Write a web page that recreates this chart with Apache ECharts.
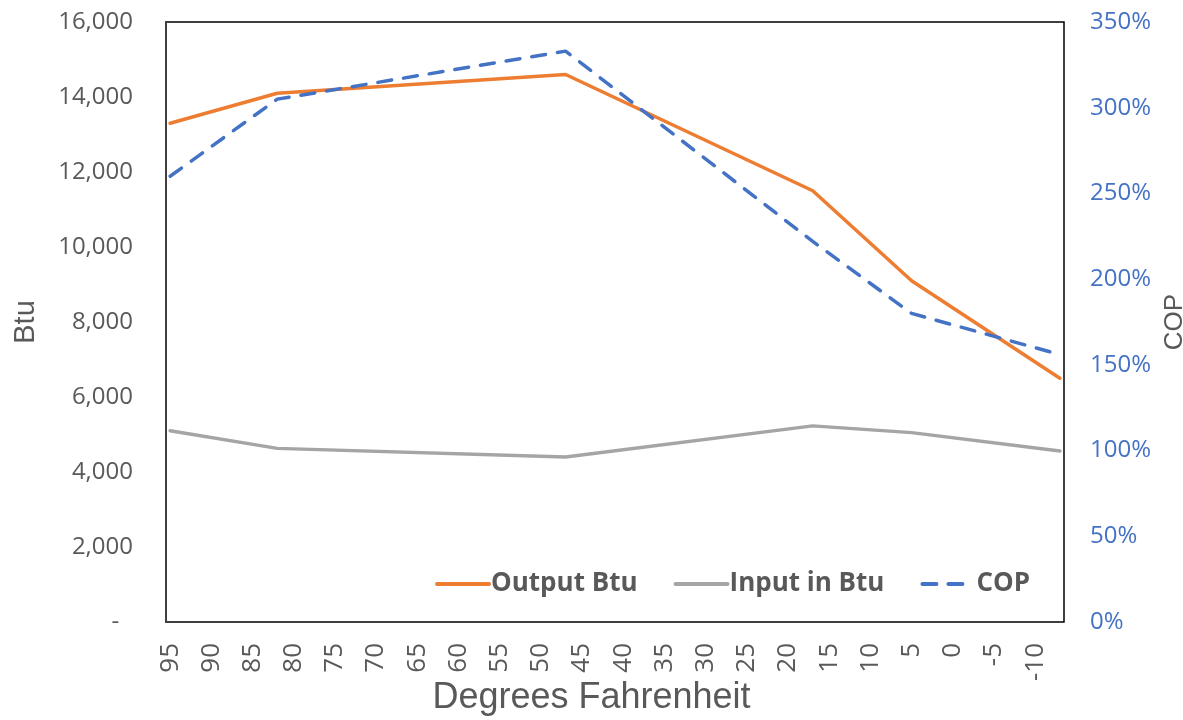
<!DOCTYPE html>
<html>
<head>
<meta charset="utf-8">
<script src="https://cdn.jsdelivr.net/npm/echarts@6/dist/echarts.min.js"></script>
<style>
  html, body { margin: 0; padding: 0; background: #fff; }
  #chart { width: 1183px; height: 720px; }
</style>
</head>
<body>
<div id="chart"></div>
<script>
// category axis: every whole degree from 95 down to -13
const degrees = [];
for (let d = 95; d >= -13; d--) degrees.push(String(d));

// measured points
const tempPoints = ['95', '82', '47', '17', '5', '-13'];
const outputBtu = [13300, 14100, 14600, 11500, 9100, 6500];
const inputBtu = [5100, 4630, 4400, 5230, 5050, 4560];
const cop = [2.60, 3.05, 3.33, 2.22, 1.80, 1.56];

const pair = (vals) => tempPoints.map((t, i) => [t, vals[i]]);

const myChart = echarts.init(document.getElementById('chart'));

const option = {
    backgroundColor: '#fff',
    animation: false,
    title: {
        text: 'Degrees Fahrenheit',
        left: 'center',
        top: 680,
        padding: 0,
        textStyle: {
            fontFamily: 'Liberation Sans',
            fontSize: 36,
            fontWeight: 'normal',
            color: '#595959'
        }
    },
    grid: {
        left: 166,
        right: 119,
        top: 22,
        bottom: 98,
        outerBoundsMode: 'none',
        containLabel: false,
        show: true,
        borderColor: '#000',
        borderWidth: 1.5
    },
    legend: {
        right: 153,
        top: 571,
        padding: 0,
        itemWidth: 52,
        itemHeight: 14,
        itemGap: 36,
        itemStyle: { opacity: 0 },
        lineStyle: { width: 4 },
        textStyle: {
            fontFamily: 'Open Sans',
            fontSize: 26,
            fontWeight: 'bold',
            color: '#595959',
            padding: [0, 0, 0, -3]
        },
        data: ['Output Btu', 'Input in Btu', 'COP']
    },
    xAxis: {
        type: 'category',
        data: degrees,
        boundaryGap: true,
        axisLine: { show: false },
        axisTick: { show: false },
        axisLabel: {
            interval: 4,
            rotate: 90,
            margin: 21,
            fontFamily: 'Open Sans',
            fontSize: 26,
            color: '#595959'
        }
    },
    yAxis: [
        {
            type: 'value',
            min: 0,
            max: 16000,
            interval: 2000,
            name: 'Btu',
            nameLocation: 'middle',
            nameGap: 126,
            nameRotate: 90,
            nameTextStyle: {
                fontFamily: 'Liberation Sans',
                fontSize: 29,
                color: '#595959'
            },
            axisLine: { show: true, lineStyle: { color: '#404040', width: 2 } },
            axisTick: { show: false },
            splitLine: { show: false },
            axisLabel: {
                margin: 33,
                fontFamily: 'Open Sans',
                fontSize: 24,
                color: '#595959',
                formatter: v => v === 0 ? '-\u2007' : v.toLocaleString('en-US')
            }
        },
        {
            type: 'value',
            min: 0,
            max: 3.5,
            interval: 0.5,
            name: 'COP',
            nameLocation: 'middle',
            nameGap: 91,
            nameRotate: 90,
            nameTextStyle: {
                fontFamily: 'Liberation Sans',
                fontSize: 26,
                color: '#595959'
            },
            axisLine: { show: false },
            axisTick: { show: false },
            splitLine: { show: false },
            axisLabel: {
                margin: 26,
                fontFamily: 'Open Sans',
                fontSize: 24,
                color: '#4472C4',
                formatter: v => Math.round(v * 100) + '%'
            }
        }
    ],
    series: [
        {
            name: 'Output Btu',
            type: 'line',
            yAxisIndex: 0,
            symbol: 'none',
            itemStyle: { color: '#ED7D31' },
            lineStyle: { color: '#ED7D31', width: 3.5, cap: 'round', join: 'round' },
            data: pair(outputBtu)
        },
        {
            name: 'Input in Btu',
            type: 'line',
            yAxisIndex: 0,
            symbol: 'none',
            itemStyle: { color: '#A5A5A5' },
            lineStyle: { color: '#A5A5A5', width: 3.5, cap: 'round', join: 'round' },
            data: pair(inputBtu)
        },
        {
            name: 'COP',
            type: 'line',
            yAxisIndex: 1,
            symbol: 'none',
            itemStyle: { color: '#4472C4' },
            lineStyle: { color: '#4472C4', width: 3.5, type: [14, 12], cap: 'round', join: 'round' },
            data: pair(cop)
        }
    ]
};

myChart.setOption(option);
</script>
</body>
</html>
